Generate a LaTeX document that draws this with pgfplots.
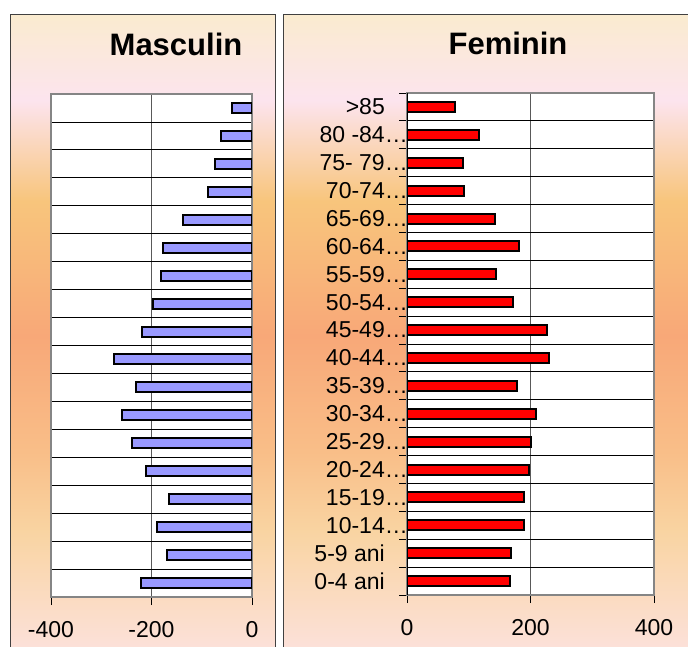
\documentclass[border=0pt]{standalone}
\usepackage{pgfplots}
\pgfplotsset{compat=1.18}
\usepackage{fontspec}
\setmainfont{Liberation Sans}

\definecolor{bgA}{HTML}{FAEBCF}
\definecolor{bgB}{HTML}{FCE4EE}
\definecolor{bgC}{HTML}{F8C57C}
\definecolor{bgD}{HTML}{F8A878}
\definecolor{bgE}{HTML}{F9BE88}
\definecolor{bgF}{HTML}{F9D4A2}
\definecolor{bgG}{HTML}{FCE1DA}
\definecolor{barblue}{HTML}{9999FF}
\definecolor{framegray}{HTML}{858585}

% panel background, path is mapped on 25bp..75bp
\pgfdeclareverticalshading{panelbg}{100bp}{color(0bp)=(bgG); color(25bp)=(bgG);
  color(34.3bp)=(bgF); color(40.6bp)=(bgE); color(49.7bp)=(bgD);
  color(60.3bp)=(bgC); color(68.2bp)=(bgB); color(75bp)=(bgA); color(100bp)=(bgA)}

\pgfplotsset{
  pyr/.style={
    scale only axis, anchor=south west,
    xbar, bar width=10pt,
    ymin=-0.5, ymax=17.5,
    axis background/.style={fill=white},
    axis line style={draw=framegray, line width=2pt},
    tick align=outside, tick pos=left,
    major tick length=8pt,
    tick style={black, line width=0.8pt},
    xmajorgrids,
    x grid style={black!65, line width=1pt},
    ticklabel style={font=\fontsize{23}{27}\selectfont},
    xticklabel style={inner sep=0pt, yshift=-16pt},
  },
}

\begin{document}
\begin{tikzpicture}
\useasboundingbox (0,0) rectangle (688pt,-646pt);

\shade[shading=panelbg] (10pt,-14pt) rectangle (275pt,-650pt);
\draw[black!75, line width=0.8pt] (10pt,-650pt) -- (10pt,-14pt) -- (275pt,-14pt) -- (275pt,-650pt);
\shade[shading=panelbg] (283pt,-14pt) rectangle (692pt,-650pt);
\draw[black!75, line width=0.8pt] (283pt,-650pt) -- (283pt,-14pt) -- (692pt,-14pt);

\node[font=\bfseries\fontsize{31}{36}\selectfont, anchor=base] at (176pt,-55pt) {Masculin};
\node[font=\bfseries\fontsize{31}{36}\selectfont, anchor=base] at (508pt,-54pt) {Feminin};

% Masculin
\begin{axis}[pyr,
  at={(51pt,-597pt)}, width=201pt, height=503pt,
  xmin=-400, xmax=0,
  xtick={-400,-200,0}, xticklabels={-400,-200,0},
  ytick={-0.5,0.5,...,17.5}, yticklabels={},
  ytick style={draw=none},
  ymajorgrids, y grid style={black, line width=0.8pt},
]
\addplot[fill=barblue, draw=black, line width=2pt] coordinates {
  (-221,0) (-169,1) (-190,2) (-165,3) (-210,4) (-239,5) (-259,6) (-230,7) (-275,8)
  (-218,9) (-197,10) (-182,11) (-177,12) (-138,13) (-88,14) (-73,15) (-62,16) (-40,17)};
\end{axis}

% Feminin
\begin{axis}[pyr,
  at={(407pt,-595pt)}, width=247pt, height=502pt,
  xmin=0, xmax=400,
  xtick={0,200,400}, xticklabels={0,200,400},
  ytick={0,...,17},
  yticklabels={0-4 ani,5-9 ani,10-14\rlap{…},15-19\rlap{…},20-24\rlap{…},25-29\rlap{…},
    30-34\rlap{…},35-39\rlap{…},40-44\rlap{…},45-49\rlap{…},50-54\rlap{…},55-59\rlap{…},
    60-64\rlap{…},65-69\rlap{…},70-74\rlap{…},75- 79\rlap{…},80 -84\rlap{…},>85},
  every major y tick/.append style={draw=none},
  yticklabel style={inner sep=0pt, anchor=east, xshift=-14pt},
  minor ytick={-0.5,0.5,...,17.5},
  minor tick length=8pt,
  yminorgrids, minor y grid style={black, line width=0.8pt},
]
\addplot[fill=red, draw=black, line width=2pt] coordinates {
  (167,0) (169,1) (189,2) (189,3) (198,4) (201,5) (209,6) (178,7) (230,8)
  (227,9) (172,10) (144,11) (182,12) (143,13) (92,14) (91,15) (117,16) (77,17)};
\draw[black, line width=0.9pt] (rel axis cs:0,0) -- (rel axis cs:0,1);
\end{axis}
\end{tikzpicture}
\end{document}
